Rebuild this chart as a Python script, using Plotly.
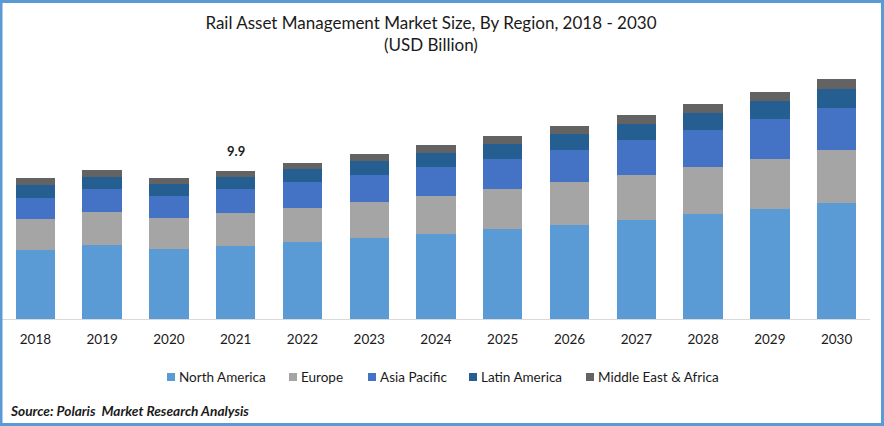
import plotly.graph_objects as go

W, H = 884, 426
years = ["2018", "2019", "2020", "2021", "2022", "2023", "2024", "2025", "2026", "2027", "2028", "2029", "2030"]
north_america = [4.62, 4.95, 4.68, 4.88, 5.15, 5.42, 5.69, 6.02, 6.29, 6.62, 7.02, 7.36, 7.76]
europe = [2.07, 2.21, 2.07, 2.21, 2.27, 2.41, 2.54, 2.68, 2.88, 3.01, 3.14, 3.34, 3.55]
asia_pacific = [1.40, 1.54, 1.47, 1.61, 1.74, 1.81, 1.94, 2.01, 2.14, 2.34, 2.47, 2.68, 2.81]
latin_america = [0.87, 0.80, 0.80, 0.80, 0.87, 0.94, 0.94, 1.00, 1.07, 1.07, 1.14, 1.20, 1.27]
middle_east = [0.47, 0.47, 0.40, 0.40, 0.40, 0.47, 0.54, 0.54, 0.54, 0.60, 0.60, 0.60, 0.67]

series = [
    ("North America", north_america, "#5B9BD5"),
    ("Europe", europe, "#A5A5A5"),
    ("Asia Pacific", asia_pacific, "#4472C4"),
    ("Latin America", latin_america, "#255E91"),
    ("Middle East & Africa", middle_east, "#636363"),
]
# left edge of each legend square, in page pixels
legend_left = [167, 289, 368, 469, 586]

FONT = "Lato"
TEXT = "#1a1a1a"
M_L, M_R, M_T, M_B = 2, 14, 60, 107
plot_w = W - M_L - M_R
plot_h = H - M_T - M_B


def px(x):
    return (x - M_L) / plot_w


def py(y):
    return (H - M_B - y) / plot_h


fig = go.Figure()
for name, values, color in series:
    fig.add_trace(go.Bar(x=years, y=values, name=name, marker={"color": color, "line": {"width": 0}}))

total_2021 = sum(s[1][years.index("2021")] for s in series)

fig.update_layout(
    width=W, height=H,
    barmode="stack", bargap=0.41, showlegend=False,
    margin={"l": M_L, "r": M_R, "t": M_T, "b": M_B, "autoexpand": False},
    paper_bgcolor="white", plot_bgcolor="white",
    font={"family": FONT, "size": 13, "color": TEXT},
    title={"text": "Rail Asset Management Market Size, By Region, 2018 - 2030<br>(USD Billion)",
           "x": 0.4875, "xanchor": "center", "y": 0.933, "yanchor": "top",
           "font": {"family": FONT, "size": 17, "color": TEXT}},
    xaxis={"type": "category", "range": [-0.5, 12.5], "showgrid": False, "showline": True,
           "linecolor": "#D9D9D9", "linewidth": 1, "ticks": "", "ticklabelstandoff": 8,
           "tickfont": {"family": FONT, "size": 13.5}},
    yaxis={"visible": False, "range": [0, 17.32]},
)

fig.add_annotation(x=years.index("2021"), y=total_2021, text="<b>%.1f</b>" % total_2021, showarrow=False,
                   yshift=20, font={"family": FONT, "size": 13, "color": TEXT})
fig.add_annotation(xref="paper", yref="paper", x=px(10), y=py(410), yanchor="middle", xanchor="left",
                   xshift=-2, text="<b><i>Source: Polaris  Market Research Analysis</i></b>", showarrow=False,
                   font={"family": FONT, "size": 13.7, "color": TEXT})

# legend drawn by hand: squares are smaller and closer to the text than the built-in one
for (name, values, color), left in zip(series, legend_left):
    fig.add_shape(type="rect", xref="paper", yref="paper", x0=px(left), x1=px(left + 8),
                  y0=py(381), y1=py(373), fillcolor=color, line={"width": 0})
    fig.add_annotation(xref="paper", yref="paper", x=px(left + 12), y=py(376.5), xanchor="left", yanchor="middle",
                       xshift=-2, text=name, showarrow=False, font={"family": FONT, "size": 13.5, "color": TEXT})

# blue frame round the whole image
fig.add_shape(type="rect", xref="paper", yref="paper", layer="above",
              x0=px(1), x1=px(W - 1.5), y0=py(H - 1.5), y1=py(1.5),
              line={"color": "#5B9BD5", "width": 3}, fillcolor="rgba(0,0,0,0)")

fig.write_html("out.html", config={"displayModeBar": False}, post_script="document.body.style.margin='0';")
